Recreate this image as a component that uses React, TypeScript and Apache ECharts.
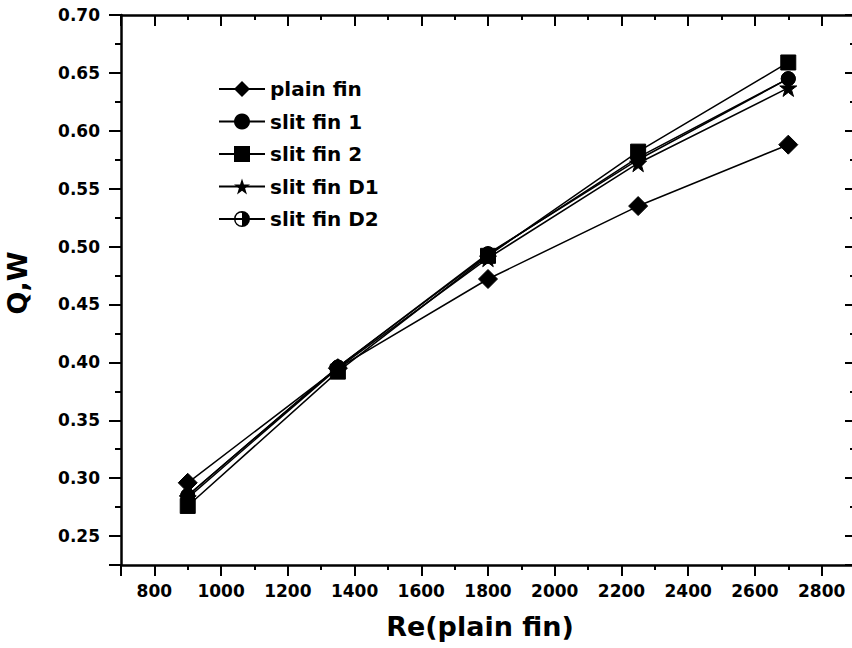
import React, { useEffect, useRef } from "react";
import * as echarts from "echarts";

const reValues = [900, 1350, 1800, 2250, 2700];
const plainFin = [0.296, 0.395, 0.472, 0.535, 0.588];
const slitFin1 = [0.285, 0.396, 0.493, 0.577, 0.645];
const slitFin2 = [0.276, 0.392, 0.492, 0.582, 0.659];
const slitFinD1 = [0.283, 0.395, 0.490, 0.572, 0.637];
const slitFinD2 = [0.285, 0.396, 0.494, 0.575, 0.645];

const seriesNames = ["plain fin", "slit fin 1", "slit fin 2", "slit fin D1", "slit fin D2"];

const STAR =
  "path://M50,0 L61.8,35.1 L98.9,35.1 L68.9,56.7 L80.3,91.9 L50,70 L19.7,91.9 L31.1,56.7 L1.1,35.1 L38.2,35.1 Z";
const HALF =
  "path://M10,0 A10,10 0 0,1 10,20 Z M10,0 A10,10 0 0,0 10,20 L10,18.2 A8.2,8.2 0 0,1 10,1.8 Z";

const FONT = "DejaVu Sans";

export default function App() {
  const ref = useRef<HTMLDivElement>(null);
  useEffect(() => {
    if (!ref.current) return;
    const chart = echarts.init(ref.current, null, { renderer: "svg" });
    const mk = (ys: number[]) => reValues.map((x, i) => [x, ys[i]]);
    const base = {
      type: "line",
      color: "#000",
      lineStyle: { color: "#000", width: 1.5 },
      itemStyle: { color: "#000", borderColor: "#000" },
      showSymbol: true,
    };
    const axisCommon = {
      axisLine: { show: true, onZero: false, lineStyle: { color: "#000", width: 2.5 } },
      splitLine: { show: false },
      minorSplitLine: { show: false },
    };
    const xScale = { min: 700, max: 2900, splitNumber: 11, minInterval: 200, maxInterval: 200 };
    const yScale = { min: 0.225, max: 0.7, splitNumber: 10, minInterval: 0.05, maxInterval: 0.05 };
    chart.setOption({
      animation: false,
      backgroundColor: "#fff",
      grid: {
        left: 121,
        top: 15,
        width: 734,
        height: 550,
        containLabel: false,
        outerBoundsMode: "none",
      },
      legend: {
        orient: "vertical",
        left: 218,
        top: 79,
        padding: 0,
        itemWidth: 46,
        itemHeight: 20,
        itemGap: 12.5,
        data: seriesNames,
        textStyle: { fontFamily: FONT, fontWeight: "bold", fontSize: 20, color: "#000" },
      },
      xAxis: [
        {
          type: "value",
          position: "bottom",
          ...xScale,
          ...axisCommon,
          axisTick: { show: true, inside: false, length: 11, lineStyle: { color: "#000", width: 2 } },
          minorTick: { show: true, splitNumber: 2, length: 5, lineStyle: { color: "#000", width: 2 } },
          axisLabel: {
            showMinLabel: false,
            showMaxLabel: false,
            margin: 17,
            formatter: (v: number) => String(Math.round(v)),
            fontFamily: FONT,
            fontWeight: "bold",
            fontSize: 17,
            color: "#000",
          },
          name: "Re(plain fin)",
          nameLocation: "middle",
          nameGap: 48,
          nameTextStyle: {
            fontFamily: FONT,
            fontWeight: "bold",
            fontSize: 27,
            color: "#000",
            padding: [0, 16, 0, 0],
          },
        },
        {
          type: "value",
          position: "top",
          ...xScale,
          ...axisCommon,
          axisTick: { show: true, inside: true, length: 11, lineStyle: { color: "#000", width: 2 } },
          minorTick: { show: true, splitNumber: 2, length: 5, lineStyle: { color: "#000", width: 2 } },
          axisLabel: { show: false },
        },
      ],
      yAxis: [
        {
          type: "value",
          position: "left",
          ...yScale,
          ...axisCommon,
          axisTick: { show: true, inside: false, length: 12, lineStyle: { color: "#000", width: 2 } },
          minorTick: { show: true, splitNumber: 2, length: 6, lineStyle: { color: "#000", width: 2 } },
          axisLabel: {
            showMinLabel: false,
            margin: 21,
            formatter: (v: number) => v.toFixed(2),
            fontFamily: FONT,
            fontWeight: "bold",
            fontSize: 17,
            color: "#000",
          },
          name: "Q,W",
          nameLocation: "middle",
          nameGap: 90,
          nameTextStyle: {
            fontFamily: FONT,
            fontWeight: "bold",
            fontSize: 27,
            color: "#000",
            padding: [0, 0, 0, 14],
          },
        },
        {
          type: "value",
          position: "right",
          ...yScale,
          ...axisCommon,
          axisTick: { show: true, inside: true, length: 10, lineStyle: { color: "#000", width: 2 } },
          minorTick: { show: true, splitNumber: 2, length: 5, lineStyle: { color: "#000", width: 2 } },
          axisLabel: { show: false },
        },
      ],
      series: [
        { ...base, name: seriesNames[0], data: mk(plainFin), symbol: "diamond", symbolSize: 19 },
        { ...base, name: seriesNames[1], data: mk(slitFin1), symbol: "circle", symbolSize: 14 },
        { ...base, name: seriesNames[2], data: mk(slitFin2), symbol: "rect", symbolSize: 15 },
        { ...base, name: seriesNames[3], data: mk(slitFinD1), symbol: STAR, symbolSize: 17 },
        { ...base, name: seriesNames[4], data: mk(slitFinD2), symbol: HALF, symbolSize: 14 },
      ],
    });
    return () => chart.dispose();
  }, []);
  return <div ref={ref} style={{ width: 852, height: 648, position: "absolute", left: 0, top: 0 }} />;
}
